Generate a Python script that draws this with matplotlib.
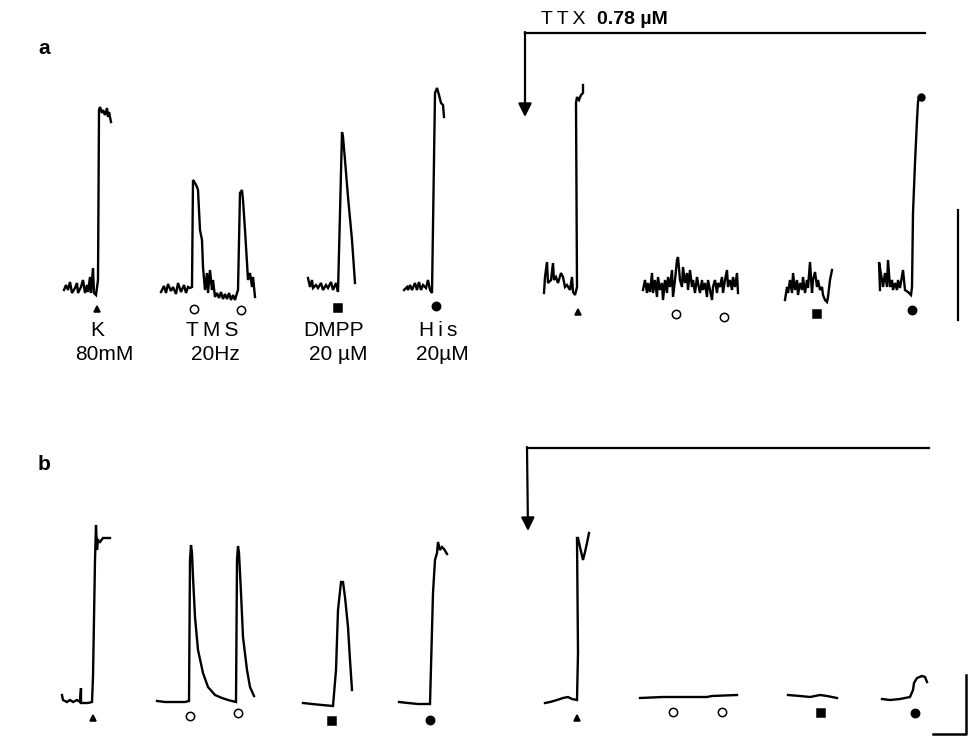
import numpy as np
import matplotlib.pyplot as plt

plt.rcParams['font.family'] = ['Liberation Sans', 'DejaVu Sans']

## traces (page pixel units, y grows downward)
# panel a, control
a_k_x = [64, 66, 68, 70, 72, 75, 77, 78, 81, 83, 85, 87, 88, 90, 91, 93, 94, 96, 98, 99, 100, 102, 103, 105, 107, 108, 109, 111]
a_k_y = [290, 285, 290, 282, 293, 288, 283, 293, 287, 280, 293, 285, 292, 277, 293, 268, 293, 295, 280, 110, 107, 113, 110, 115, 108, 117, 112, 122]
a_tms_x = [161, 164, 166, 168, 171, 173, 176, 178, 181, 184, 186, 188, 190, 192, 193, 195, 197, 198, 200, 202, 203, 205, 207, 208, 210, 212, 213, 215,
           217, 219, 221, 223, 225, 227, 229, 231, 233, 235, 237, 238, 240, 242, 243, 245, 247, 248, 250, 252, 253, 255]
a_tms_y = [292, 286, 293, 284, 291, 287, 294, 283, 292, 285, 293, 287, 288, 287, 180, 183, 187, 190, 230, 240, 267, 290, 273, 293, 270, 290, 280, 297,
           293, 298, 292, 299, 294, 299, 293, 300, 295, 300, 293, 290, 193, 190, 200, 230, 263, 280, 273, 287, 277, 297]
a_dmpp_x = [308, 310, 312, 313, 316, 318, 321, 323, 326, 328, 331, 333, 336, 338, 340, 342, 343, 345, 348, 352, 355]
a_dmpp_y = [278, 287, 280, 288, 285, 288, 283, 290, 285, 288, 282, 290, 283, 292, 213, 132, 137, 160, 197, 240, 283]
a_his_x = [404, 407, 408, 410, 412, 415, 417, 419, 421, 423, 426, 428, 430, 432, 435, 437, 439, 441, 443, 444]
a_his_y = [290, 287, 290, 285, 290, 283, 290, 282, 290, 285, 288, 280, 290, 293, 93, 88, 95, 103, 105, 117]

# panel a, TTX
t_k_x = [544, 545, 547, 548, 551, 553, 554, 556, 558, 561, 563, 565, 567, 570, 572, 573, 575, 577, 576, 577, 579, 581, 583, 583]
t_k_y = [293, 277, 262, 283, 280, 263, 280, 277, 283, 273, 277, 287, 285, 290, 277, 292, 295, 287, 103, 97, 100, 95, 93, 85]
t_tms_x = [643, 645, 647, 648, 650, 652, 653, 655, 657, 658, 660, 662, 663, 665, 667, 668, 670, 672, 673, 675, 677, 678, 680, 682, 683, 685, 687, 688,
           690, 692, 693, 695, 697, 698, 700, 702, 703, 705, 707, 708, 710, 712, 713, 715, 717, 718, 720, 722, 723, 725, 727, 728, 730, 732, 733, 735, 737, 738]
t_tms_y = [290, 280, 293, 283, 292, 273, 293, 280, 297, 277, 290, 283, 300, 280, 293, 277, 287, 270, 297, 280, 260, 257, 280, 287, 267, 283, 273, 290,
           270, 287, 280, 293, 277, 283, 293, 280, 290, 283, 297, 280, 290, 300, 287, 280, 293, 283, 287, 277, 293, 280, 270, 287, 280, 290, 277, 287, 273, 293]
t_dmpp_x = [785, 787, 788, 790, 792, 793, 795, 797, 798, 800, 802, 803, 805, 807, 808, 810, 812, 813, 815, 817, 818, 820, 822, 823, 825, 827, 828, 830, 832]
t_dmpp_y = [300, 287, 293, 280, 293, 273, 290, 280, 295, 283, 290, 277, 293, 280, 288, 262, 293, 280, 272, 287, 280, 290, 287, 295, 300, 302, 297, 280, 270]
t_his_x = [880, 879, 882, 883, 885, 887, 888, 890, 892, 893, 895, 897, 898, 900, 903, 905, 908, 911, 912, 913, 915, 917, 918, 919, 922, 923]
t_his_y = [290, 262, 280, 287, 273, 287, 260, 287, 280, 290, 283, 290, 280, 288, 270, 290, 292, 295, 287, 213, 163, 120, 102, 97, 97, 100]

# panel b, control
b_k_x = [62, 63, 67, 70, 73, 77, 80, 81, 81, 85, 88, 92, 93, 95, 96, 97, 98, 100, 103, 107, 110]
b_k_y = [695, 700, 702, 700, 702, 700, 702, 688, 703, 703, 703, 702, 677, 560, 525, 550, 540, 542, 538, 538, 538]
b_tms_x = [157, 165, 175, 185, 189, 190, 191, 192, 193, 195, 198, 203, 208, 215, 222, 228, 236, 237, 238, 239, 241, 243, 247, 250, 254]
b_tms_y = [701, 702, 702, 702, 701, 560, 545, 553, 577, 617, 650, 673, 687, 695, 698, 700, 702, 560, 546, 553, 593, 637, 670, 687, 696]
b_dmpp_x = [303, 312, 322, 333, 336, 338, 341, 343, 345, 348, 350, 352]
b_dmpp_y = [703, 704, 705, 706, 670, 610, 582, 582, 597, 627, 660, 690]
b_his_x = [399, 408, 418, 430, 431, 433, 435, 437, 438, 440, 442, 444, 447]
b_his_y = [702, 703, 704, 704, 667, 593, 560, 553, 542, 550, 547, 549, 554]

# panel b, TTX
u_k_x = [545, 550, 557, 563, 568, 572, 577, 578, 577, 578, 580, 583, 585, 587, 589]
u_k_y = [703, 702, 700, 698, 697, 699, 700, 653, 538, 538, 547, 560, 552, 543, 533]
u_tms_x = [640, 663, 687, 707, 712, 737]
u_tms_y = [698, 697, 697, 697, 696, 695]
u_dmpp_x = [788, 800, 810, 820, 827, 837]
u_dmpp_y = [695, 696, 697, 695, 696, 698]
u_his_x = [882, 890, 900, 910, 913, 914, 917, 922, 925, 927]
u_his_y = [699, 700, 699, 697, 690, 683, 678, 676, 677, 682]

## stimulus markers: (x, y, marker, face colour)
marks_a = [(97, 309, '^', 'k'), (194, 309, 'o', 'w'), (241, 310, 'o', 'w'), (338, 308, 's', 'k'), (436, 306, 'o', 'k'),
           (578, 312, '^', 'k'), (676, 314, 'o', 'w'), (724, 317, 'o', 'w'), (817, 314, 's', 'k'), (912, 310, 'o', 'k')]
marks_b = [(93, 718, '^', 'k'), (190, 716, 'o', 'w'), (238, 713, 'o', 'w'), (332, 721, 's', 'k'), (430, 720, 'o', 'k'),
           (577, 718, '^', 'k'), (673, 712, 'o', 'w'), (722, 712, 'o', 'w'), (821, 713, 's', 'k'), (915, 713, 'o', 'k')]

labels_top = ['K', 'T\u2009M\u2009S', 'DMPP', 'H\u2009i\u2009s']
labels_bot = ['80mM', '20Hz', '20 µM', '20µM']
top_x = [97, 212, 334, 438]
bot_x = [104, 215, 338, 442]

fig = plt.figure(figsize=(9.68, 7.36), dpi=100)
ax = fig.add_axes([0, 0, 1, 1])
ax.set_xlim(0, 968)
ax.set_ylim(736, 0)
ax.axis('off')

traces = [(a_k_x, a_k_y), (a_tms_x, a_tms_y), (a_dmpp_x, a_dmpp_y), (a_his_x, a_his_y),
          (t_k_x, t_k_y), (t_tms_x, t_tms_y), (t_dmpp_x, t_dmpp_y), (t_his_x, t_his_y),
          (b_k_x, b_k_y), (b_tms_x, b_tms_y), (b_dmpp_x, b_dmpp_y), (b_his_x, b_his_y),
          (u_k_x, u_k_y), (u_tms_x, u_tms_y), (u_dmpp_x, u_dmpp_y), (u_his_x, u_his_y)]
for xs, ys in traces:
    ax.plot(xs, ys, '-', color='k', lw=1.7, solid_joinstyle='miter')

for x, y, m, fc in marks_a + marks_b:
    ms = 5 if m == '^' else (5.5 if m == 's' else 6)
    ax.plot(x, y, m, ms=ms, mfc=fc, mec='k', mew=1.1)
ax.plot(921, 97, 'o', ms=5, color='k')

for x, t in zip(top_x, labels_top):
    ax.text(x, 331, t, ha='center', va='center', fontsize=15)
for x, t in zip(bot_x, labels_bot):
    ax.text(x, 355, t, ha='center', va='center', fontsize=15)

## TTX application lines
ax.plot([525, 925], [33, 33], color='k', lw=1.6)
ax.annotate('', xy=(525, 117), xytext=(525, 32),
            arrowprops=dict(arrowstyle='-|>', color='k', lw=1.6, mutation_scale=20, shrinkA=0, shrinkB=0))
ax.plot([527, 929], [448, 448], color='k', lw=1.6)
ax.annotate('', xy=(528, 531), xytext=(527, 447),
            arrowprops=dict(arrowstyle='-|>', color='k', lw=1.6, mutation_scale=20, shrinkA=0, shrinkB=0))
ax.text(541, 20, 'T\u2009T\u2009X', ha='left', va='center', fontsize=14)
ax.text(597, 19, '0.78 µM', ha='left', va='center', fontsize=14, fontweight='bold')

## scale bars
ax.plot([958, 958], [210, 320], color='k', lw=1.6)
ax.plot([933, 966, 966], [734, 734, 675], color='k', lw=1.8)

ax.text(44, 48, 'a', ha='center', va='center', fontsize=15, fontweight='bold')
ax.text(44, 465, 'b', ha='center', va='center', fontsize=15, fontweight='bold')

plt.savefig('out.png', dpi=100)
